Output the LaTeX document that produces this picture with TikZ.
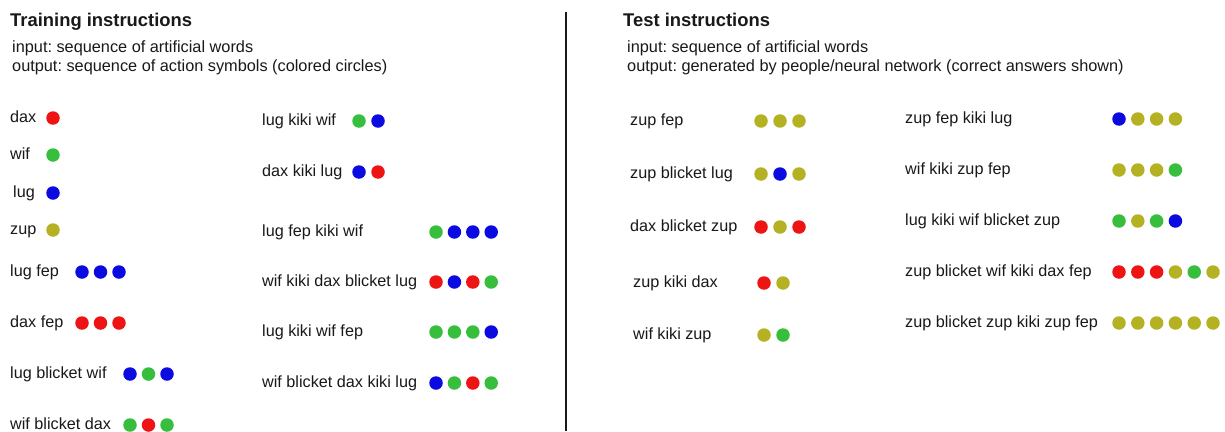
\documentclass[tikz,border=0pt]{standalone}
\usepackage{fontspec}
\setmainfont{Liberation Sans}
\definecolor{cR}{RGB}{238,20,20}
\definecolor{cB}{RGB}{10,10,225}
\definecolor{cG}{RGB}{55,190,60}
\definecolor{cY}{RGB}{180,178,35}
\definecolor{ink}{RGB}{25,25,25}
\frenchspacing
\newcommand\seqrow[7]{%
  \node[lbl] (#1) at (#2,#3+4.8) {#4};
  \foreach \c [count=\i from 0] in {#7} {\node[dotc=\c] (#1-d\i) at (#5+\i*#6,#3) {};}
}
\begin{document}
\begin{tikzpicture}[x=1pt,y=-1pt,
  lbl/.style={anchor=base west,inner sep=0,text=ink,font=\fontsize{16.2}{18}\selectfont},
  ttl/.style={anchor=base west,inner sep=0,text=ink,font=\fontsize{18.4}{20}\selectfont\bfseries},
  sub/.style={anchor=base west,inner sep=0,text=ink,font=\fontsize{16.3}{18}\selectfont},
  dotc/.style={circle,inner sep=0,minimum size=13.5pt,fill=#1}]
\useasboundingbox (0,0) rectangle (1225,431);
\fill[white] (0,0) rectangle (1225,431);

% headers
\node[ttl] (trtitle) at (10,27) {Training instructions};
\node[sub] (trin) at (12,52.5) {input: sequence of artificial words};
\node[sub] (trout) at (12,71) {output: sequence of action symbols (colored circles)};

\node[ttl] (tetitle) at (623,27) {Test instructions};
\node[sub] (tein) at (627,52.5) {input: sequence of artificial words};
\node[sub] (teout) at (627,71) {output: generated by people/neural network (correct answers shown)};

% divider
\coordinate (divtop) at (566,12);
\coordinate (divbot) at (566,431);
\draw[line width=2pt,ink] (divtop) -- (divbot);

% training, left column
\seqrow{dax}{10}{118}{dax}{53}{18.5}{cR}
\seqrow{wif}{10}{155}{wif}{53}{18.5}{cG}
\seqrow{lug}{13}{193}{lug}{53}{18.5}{cB}
\seqrow{zup}{10}{230}{zup}{53}{18.5}{cY}
\seqrow{lugfep}{10}{272}{lug fep}{82}{18.5}{cB,cB,cB}
\seqrow{daxfep}{10}{323}{dax fep}{82}{18.5}{cR,cR,cR}
\seqrow{lbw}{10}{374}{lug blicket wif}{130}{18.5}{cB,cG,cB}
\seqrow{wbd}{10}{425}{wif blicket dax}{130}{18.5}{cG,cR,cG}

% training, middle column
\seqrow{lkw}{262}{121}{lug kiki wif}{359}{19}{cG,cB}
\seqrow{dkl}{262}{172}{dax kiki lug}{359}{19}{cB,cR}
\seqrow{lfkw}{262}{232}{lug fep kiki wif}{436}{18.4}{cG,cB,cB,cB}
\seqrow{wkdbl}{262}{282}{wif kiki dax blicket lug}{436}{18.4}{cR,cB,cR,cG}
\seqrow{lkwf}{262}{332}{lug kiki wif fep}{436}{18.4}{cG,cG,cG,cB}
\seqrow{wbdkl}{262}{383}{wif blicket dax kiki lug}{436}{18.4}{cB,cG,cR,cG}

% test, left column
\seqrow{zf}{630}{121}{zup fep}{761}{19}{cY,cY,cY}
\seqrow{zbl}{630}{174}{zup blicket lug}{761}{19}{cY,cB,cY}
\seqrow{dbz}{630}{227}{dax blicket zup}{761}{19}{cR,cY,cR}
\seqrow{zkd}{633}{283}{zup kiki dax}{764}{19}{cR,cY}
\seqrow{wkz}{633}{335}{wif kiki zup}{764}{19}{cY,cG}

% test, right column
\seqrow{zfkl}{905}{119}{zup fep kiki lug}{1119}{18.8}{cB,cY,cY,cY}
\seqrow{wkzf}{905}{170}{wif kiki zup fep}{1119}{18.8}{cY,cY,cY,cG}
\seqrow{lkwbz}{905}{221}{lug kiki wif blicket zup}{1119}{18.8}{cG,cY,cG,cB}
\seqrow{zbwkdf}{905}{272}{zup blicket wif kiki dax fep}{1119}{18.8}{cR,cR,cR,cY,cG,cY}
\seqrow{zbzkzf}{905}{323}{zup blicket zup kiki zup fep}{1119}{18.8}{cY,cY,cY,cY,cY,cY}
\end{tikzpicture}
\end{document}
